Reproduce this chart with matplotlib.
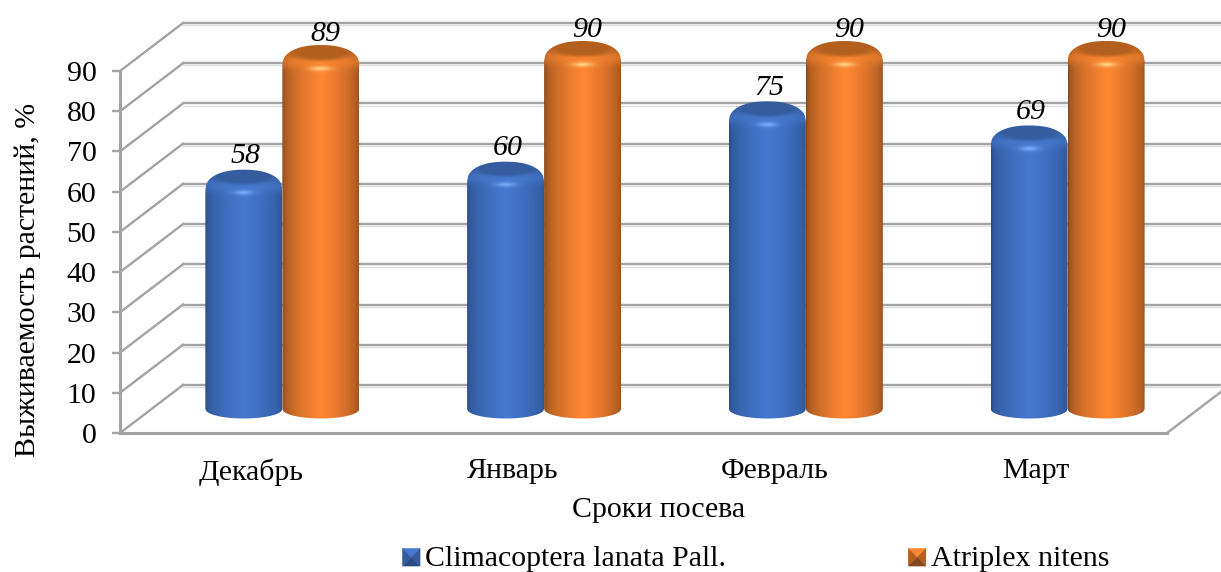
# survival_chart.py
import numpy as np
import matplotlib
matplotlib.use('Agg')
import matplotlib.pyplot as plt
from matplotlib.legend_handler import HandlerBase
from matplotlib.patches import Patch, Polygon

plt.rcParams['font.family'] = ['Liberation Serif', 'DejaVu Serif']

months = ['Декабрь', 'Январь', 'Февраль', 'Март']
climacoptera = [58, 60, 75, 69]
atriplex = [89, 90, 90, 90]
y_ticks = [0, 10, 20, 30, 40, 50, 60, 70, 80, 90]

GRID = '#a3a3a3'
SHADOW = '#dcdcdc'
FONT = 21.5
FIG_W, FIG_H = 1221, 572
# front plane of the 3D box, in pixels
LEFT, RIGHT, TOP, BOTTOM = 120, 1167, 71, 433
PX_X = (RIGHT - LEFT) / 4          # pixels per category
PX_Y = (BOTTOM - TOP) / 90         # pixels per percent
DEPTH_X = 63 / PX_X
DEPTH_Y = 48 / PX_Y
BAR_W = 77 / PX_X

BLUE = dict(edge='#284b87', mid='#4678d0', cap='#345c9f', glow='#78a8f8', rim='#4a7bd0')
ORANGE = dict(edge='#84461a', mid='#ff8733', cap='#b3601f', glow='#ffd080', rim='#f5852f')


def hex_rgb(c):
    return np.array(matplotlib.colors.to_rgb(c))


def silhouette(cx, value):
    """Outline of one cylinder with a rounded top and elliptical bottom"""
    base = DEPTH_Y / 2
    top = base + value
    u = np.linspace(-1, 1, 80)
    bottom_y = base - 9.5 / PX_Y * np.sqrt(1 - u ** 2)
    top_y = top - 14 / PX_Y + 20 / PX_Y * (1 - np.abs(u) ** 2.25) ** (1 / 2.25)
    xs = cx + u * BAR_W / 2
    pts = np.vstack([np.column_stack([xs, bottom_y]),
                     np.column_stack([xs[::-1], top_y[::-1]])])
    return pts


def cylinder_shading(value, colors):
    """Builds the RGB shading of a cylinder, returns image and its y range"""
    base = DEPTH_Y / 2
    top = base + value
    y_hi = top + 8 / PX_Y
    y_lo = base - 11 / PX_Y
    rows = int((y_hi - y_lo) * PX_Y)
    u = np.linspace(-1, 1, 77)
    px_below = np.linspace(-8, rows - 8, rows)  # pixels below the top centre
    uu, yy = np.meshgrid(u, px_below)

    # horizontal gradient around the cylinder
    t = np.clip(1 - np.abs(uu - 0.02) / 1.02, 0, 1) ** 0.45
    t = t[..., None]
    img = hex_rgb(colors['edge']) * (1 - t) + hex_rgb(colors['mid']) * t

    # lighter rounded bevel around the top
    rim = np.exp(-((yy - 10) / 7.0) ** 2)[..., None] * 0.55
    img = img * (1 - rim) + hex_rgb(colors['rim']) * rim

    # dark top face, fading softly into the bevel
    d = np.sqrt((uu / 0.84) ** 2 + ((yy - 0.5) / 8.5) ** 2)
    face = np.clip((1.2 - d) / 0.45, 0, 1)[..., None]
    img = img * (1 - face) + hex_rgb(colors['cap']) * face

    # glint on the bevel below the top face
    glow = np.exp(-(uu / 0.26) ** 2 - ((yy - 17) / 2.4) ** 2)[..., None]
    img = img * (1 - glow) + hex_rgb(colors['glow']) * glow
    return np.clip(img, 0, 1), y_lo, y_hi


def draw_cylinder(ax, cx, value, colors, z):
    img, y_lo, y_hi = cylinder_shading(value, colors)
    im = ax.imshow(img, extent=(cx - BAR_W / 2, cx + BAR_W / 2, y_lo, y_hi),
                   aspect='auto', interpolation='bilinear', zorder=z)
    outline = Polygon(silhouette(cx, value), closed=True, transform=ax.transData,
                      facecolor='none', edgecolor='none', clip_on=False)
    ax.add_patch(outline)
    im.set_clip_box(ax.figure.bbox)
    im.set_clip_path(outline)


def draw_box(ax):
    """Back wall, side wall and floor of the 3D box"""
    x0, x1 = -0.5, 3.5
    for v in y_ticks:
        # shadow below the wall lines
        ax.plot([x0 + DEPTH_X, x1 + 0.3], [v + DEPTH_Y - 2.2 / PX_Y] * 2,
                color=SHADOW, lw=1.0, clip_on=False, zorder=1)
        ax.plot([x0 + DEPTH_X, x1 + 0.3], [v + DEPTH_Y] * 2,
                color=GRID, lw=1.7, clip_on=False, zorder=1.2)
        ax.plot([x0, x0 + DEPTH_X], [v, v + DEPTH_Y],
                color=GRID, lw=1.7, clip_on=False, zorder=1.2)
    ax.plot([x1, x1 + DEPTH_X], [0, DEPTH_Y],
            color=GRID, lw=1.7, clip_on=False, zorder=1.2)


class PyramidHandler(HandlerBase):
    """Legend key drawn as a small bevelled square"""

    def create_artists(self, legend, orig, xd, yd, w, h, fontsize, trans):
        colors = orig.shade_colors
        s = h
        x0 = w - s - xd
        y0 = -yd - 0.1 * s
        c = (x0 + s / 2, y0 + s / 2)
        a, b = (x0, y0), (x0 + s, y0)
        d, e = (x0 + s, y0 + s), (x0, y0 + s)
        tris = [(e, d, colors['mid']), (a, e, colors['cap']),
                (d, b, colors['cap']), (a, b, colors['edge'])]
        return [Polygon([p, q, c], closed=True, facecolor=col, edgecolor=col,
                        lw=0.2, transform=trans) for p, q, col in tris]


def main():
    fig = plt.figure(figsize=(FIG_W / 100, FIG_H / 100), dpi=100, facecolor='white')
    ax = fig.add_axes([LEFT / FIG_W, 1 - BOTTOM / FIG_H,
                       (RIGHT - LEFT) / FIG_W, (BOTTOM - TOP) / FIG_H])
    ax.patch.set_visible(False)

    draw_box(ax)

    x = np.arange(len(months))
    for i in x:
        group = i + DEPTH_X / 2
        blue_x = group - BAR_W / 2
        orange_x = group + BAR_W / 2
        draw_cylinder(ax, blue_x, climacoptera[i], BLUE, 3)
        draw_cylinder(ax, orange_x, atriplex[i], ORANGE, 4)
        ax.annotate(str(climacoptera[i]), xy=(blue_x, DEPTH_Y / 2 + climacoptera[i]),
                    xytext=(1.5, 14), textcoords='offset points', ha='center', va='center',
                    fontsize=FONT, style='italic', annotation_clip=False, zorder=6)
        ax.annotate(str(atriplex[i]), xy=(orange_x, DEPTH_Y / 2 + atriplex[i]),
                    xytext=(3.5, 12), textcoords='offset points', ha='center', va='center',
                    fontsize=FONT, style='italic', annotation_clip=False, zorder=6)

    ax.set_xlim(-0.5, 3.5)
    ax.set_ylim(0, 90)
    ax.set_xticks(x)
    ax.set_xticklabels(months, fontsize=FONT)
    ax.set_yticks(y_ticks)
    ax.tick_params(axis='x', length=0, pad=18)
    ax.tick_params(axis='y', length=6, width=1.7, color=GRID, labelsize=FONT, pad=11)

    for side in ['top', 'right']:
        ax.spines[side].set_visible(False)
    for side in ['left', 'bottom']:
        ax.spines[side].set_color(GRID)
        ax.spines[side].set_linewidth(2.2)
        ax.spines[side].set_zorder(2)

    ax.set_xlabel('Сроки посева', fontsize=FONT)
    ax.xaxis.set_label_coords((659 - LEFT) / (RIGHT - LEFT), -(510 - BOTTOM) / (BOTTOM - TOP),
                              transform=ax.transAxes)
    ax.xaxis.label.set_va('center')
    ax.set_ylabel('Выживаемость растений, %', fontsize=FONT)
    ax.yaxis.set_label_coords(-(LEFT - 28) / (RIGHT - LEFT), (BOTTOM - 280) / (BOTTOM - TOP),
                              transform=ax.transAxes)
    ax.yaxis.label.set_va('center')

    key_blue = Patch(label='Climacoptera lanata Pall.')
    key_blue.shade_colors = BLUE
    key_orange = Patch(label='Atriplex nitens')
    key_orange.shade_colors = ORANGE
    fig.legend(handles=[key_blue, key_orange], ncol=2, frameon=False, fontsize=FONT,
               handler_map={Patch: PyramidHandler()}, handlelength=0.54, handleheight=0.54,
               handletextpad=0.17, columnspacing=6.15, borderpad=0, borderaxespad=0,
               loc='center left', bbox_to_anchor=(404 / FIG_W, 1 - 559 / FIG_H))

    fig.savefig('out.png', dpi=100, facecolor='white')


if __name__ == "__main__":
    main()
